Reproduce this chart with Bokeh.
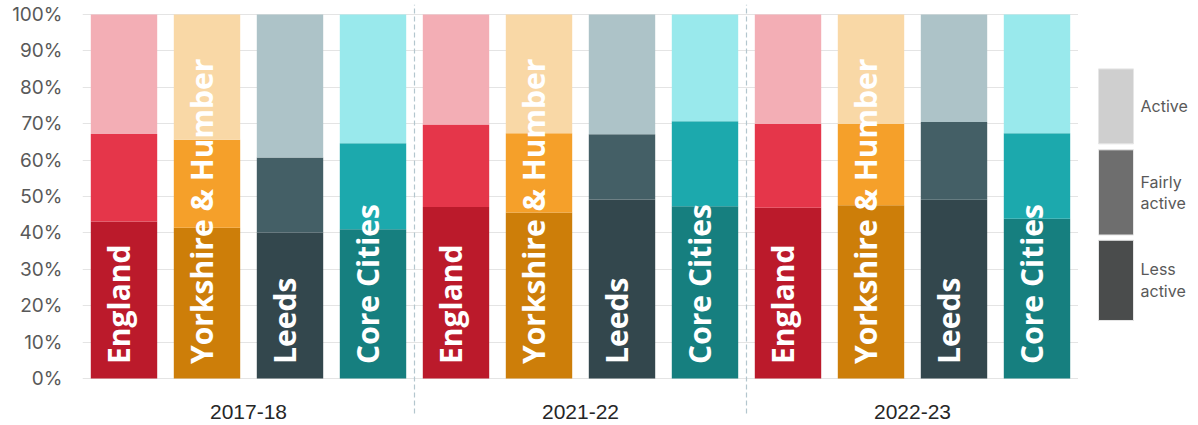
import numpy as np
from bokeh.plotting import figure
from bokeh.layouts import row
from bokeh.models import ColumnDataSource, FixedTicker, Range1d
from bokeh.core.properties import value
from bokeh.embed import file_html
from bokeh.resources import INLINE

# ---------------- data ----------------
years = ["2017-18", "2021-22", "2022-23"]
regions = ["England", "Yorkshire & Humber", "Leeds", "Core Cities"]
less_active = [43.1, 41.4, 40.1, 41.0, 47.1, 45.6, 49.2, 47.3, 46.9, 47.6, 49.1, 43.9]
fairly_active = [24.1, 24.2, 20.6, 23.6, 22.7, 21.8, 17.9, 23.4, 23.0, 22.3, 21.4, 23.5]
active = [32.8, 34.4, 39.3, 35.4, 30.2, 32.6, 32.9, 29.3, 30.1, 30.1, 29.5, 32.6]
y_ticks = [0, 10, 20, 30, 40, 50, 60, 70, 80, 90, 100]
legend_labels = ["Active", "Fairly\nactive", "Less\nactive"]

# ---------------- styles ----------------
col_less = {"England": "#bb1a2b", "Yorkshire & Humber": "#cd7e09",
            "Leeds": "#33474d", "Core Cities": "#167f7f"}
col_fair = {"England": "#e5364a", "Yorkshire & Humber": "#f5a02a",
            "Leeds": "#445f66", "Core Cities": "#1ca9ad"}
col_act = {"England": "#f3aeb5", "Yorkshire & Humber": "#f9d8a6",
           "Leeds": "#adc3c8", "Core Cities": "#99e9ec"}
legend_colors = ["#cfcfcf", "#6e6e6e", "#4a4c4c"]

n = len(years) * len(regions)
x = np.arange(n) + 0.5
reg = [regions[i % len(regions)] for i in range(n)]
less = np.array(less_active)
fair = np.array(fairly_active)
act = np.array(active)

bars = ColumnDataSource(dict(
    x=np.concatenate([x, x, x]),
    bottom=np.concatenate([np.zeros(n), less, less + fair]),
    top=np.concatenate([less, less + fair, less + fair + act]),
    color=[col_less[r] for r in reg] + [col_fair[r] for r in reg] + [col_act[r] for r in reg],
))

W, H = 1078, 424
TOP = 4
px_per_unit = 3.64
y_end = 100 + (14 - TOP) / px_per_unit
y_start = y_end - (H - TOP) / px_per_unit

p = figure(width=W, height=H, output_backend="svg", toolbar_location=None,
           x_range=Range1d(0, n), y_range=Range1d(y_start, y_end),
           min_border_left=82, min_border_right=0, min_border_top=TOP, min_border_bottom=0)
p.outline_line_color = None
p.background_fill_color = "white"
p.border_fill_color = "white"

p.vbar(x="x", bottom="bottom", top="top", width=0.8, color="color",
       line_color=None, source=bars)

# axes
p.xaxis.visible = False
p.xgrid.visible = False
p.yaxis.ticker = FixedTicker(ticks=y_ticks)
p.yaxis.major_label_overrides = {t: f"{t}%" for t in y_ticks}
p.yaxis.axis_line_color = None
p.yaxis.major_tick_line_color = None
p.yaxis.minor_tick_line_color = None
p.yaxis.major_tick_in = 0
p.yaxis.major_tick_out = 0
p.yaxis.major_label_standoff = 20
p.yaxis.major_label_text_font = "Inter"
p.yaxis.major_label_text_font_size = "19px"
p.yaxis.major_label_text_color = "#595959"
p.ygrid.ticker = FixedTicker(ticks=y_ticks)
p.ygrid.grid_line_color = "#e4e4e4"
p.ygrid.grid_line_width = 1

# group separators
ng = len(regions)
sep_x = [ng * k for k in range(1, len(years))]
p.segment(x0=sep_x, x1=sep_x, y0=[-9.6] * len(sep_x), y1=[y_end] * len(sep_x),
          line_color="#b3c6ce", line_width=1.2, line_dash="5 3")

# year labels
p.text(x=[ng * k + ng / 2 for k in range(len(years))], y=[-9.1] * len(years), text=years,
       text_align="center", text_baseline="middle",
       text_font=value("Liberation Sans"), text_font_size="21px", text_color="#262626")

# in-bar region labels
p.text(x=x - 0.067, y=[4.0] * n, text=reg, angle=np.pi / 2,
       text_align="left", text_baseline="alphabetic",
       text_font=value("Open Sans"), text_font_style="bold",
       text_font_size="30px", text_color="white")

# ---------------- legend figure ----------------
LW = 118
leg = figure(width=LW, height=H, output_backend="svg", toolbar_location=None,
             x_range=Range1d(0, LW), y_range=Range1d(H, 0),
             min_border=0)
leg.outline_line_color = None
leg.axis.visible = False
leg.grid.visible = False
sw_top = [65, 146.7, 238]
sw_bot = [140.7, 232.7, 319]
leg.quad(left=[20] * 3, right=[55] * 3, top=sw_top, bottom=sw_bot,
         fill_color=legend_colors, line_color="#e6e6e6", line_width=1)
lines_txt, lines_y = [], []
for lab, t, b in zip(legend_labels, sw_top, sw_bot):
    parts = lab.split("\n")
    mid = (t + b) / 2
    for j, part in enumerate(parts):
        lines_txt.append(part)
        lines_y.append(mid + (j - (len(parts) - 1) / 2) * 22)
leg.text(x=[62] * len(lines_txt), y=lines_y, text=lines_txt,
         text_align="left", text_baseline="middle",
         text_font=value("Inter"), text_font_size="16px", text_color="#595959")

layout = row(p, leg)
open("out.html", "w").write(file_html(layout, INLINE))
